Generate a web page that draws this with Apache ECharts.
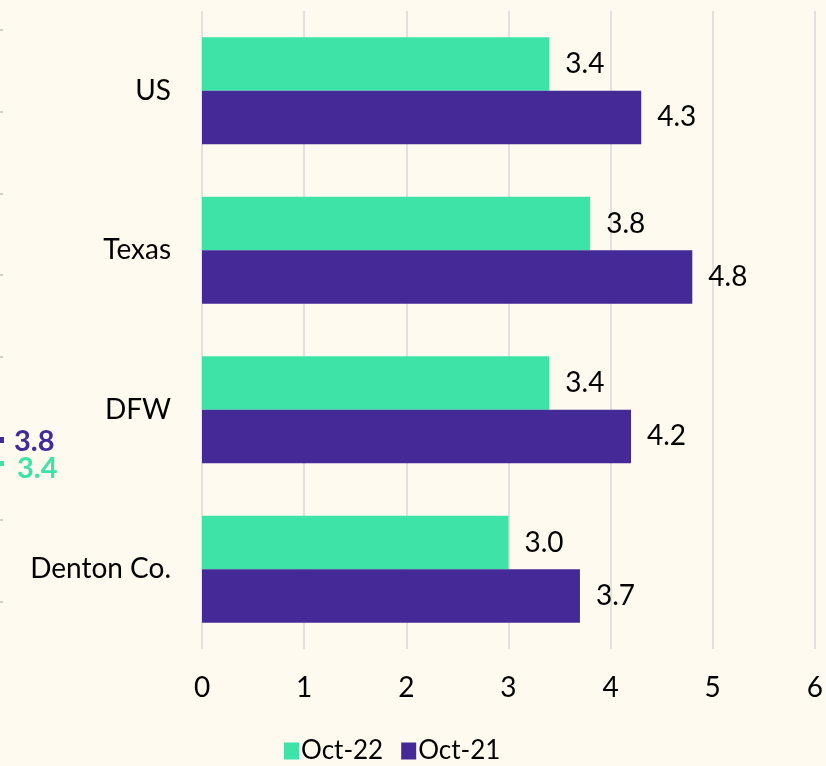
<!DOCTYPE html>
<html>
<head>
<meta charset="utf-8">
<script src="https://cdn.jsdelivr.net/npm/echarts@6/dist/echarts.min.js"></script>
<style>
html,body{margin:0;padding:0;background:#FEFAEF;}
#chart{width:826px;height:766px;}
</style>
</head>
<body>
<div id="chart"></div>
<script>
const categories = ['US', 'Texas', 'DFW', 'Denton Co.'];
const oct22 = [3.4, 3.8, 3.4, 3.0];
const oct21 = [4.3, 4.8, 4.2, 3.7];
const seriesNames = ['Oct-22', 'Oct-21'];
const xTicks = [0, 1, 2, 3, 4, 5, 6];
const fragmentValues = ['3.8', '3.4'];

const FONT = 'Lato';
const GREEN = '#3EE3A8';
const PURPLE = '#442A96';

const chart = echarts.init(document.getElementById('chart'));

const leftTicks = [30, 112, 194, 275, 357, 439, 520, 602].map(y => ({
  type: 'rect', shape: {x: 0, y: y - 1, width: 3, height: 2}, style: {fill: '#d0cec8'}, silent: true
}));

chart.setOption({
  backgroundColor: '#FEFAEF',
  animation: false,
  textStyle: {fontFamily: FONT},
  grid: {left: 202, right: 9, top: 11, bottom: 117, containLabel: false},
  xAxis: {
    type: 'value', min: xTicks[0], max: xTicks[xTicks.length - 1], interval: 1,
    axisLine: {show: false}, axisTick: {show: false},
    splitLine: {show: true, lineStyle: {color: '#D9D9D9', width: 1.5}},
    axisLabel: {fontFamily: FONT, fontSize: 28, color: '#000', margin: 25}
  },
  yAxis: {
    type: 'category', data: categories, inverse: true,
    axisLine: {show: false}, axisTick: {show: false},
    axisLabel: {fontFamily: FONT, fontSize: 28, color: '#000', margin: 31}
  },
  legend: {
    data: seriesNames, left: 279, top: 733, itemWidth: 15, itemHeight: 17, itemGap: 18,
    icon: 'rect',
    textStyle: {fontFamily: FONT, fontSize: 26, color: '#000', padding: [0, 0, 0, -3]}
  },
  series: [
    {
      name: seriesNames[0], type: 'bar', data: oct22, barGap: '0%', barCategoryGap: '33%',
      itemStyle: {color: GREEN},
      label: {show: true, position: 'right', distance: 16, fontFamily: FONT, fontSize: 28, color: '#000',
        formatter: p => p.value.toFixed(1)}
    },
    {
      name: seriesNames[1], type: 'bar', data: oct21, barGap: '0%', barCategoryGap: '33%',
      itemStyle: {color: PURPLE},
      label: {show: true, position: 'right', distance: 16, fontFamily: FONT, fontSize: 28, color: '#000',
        formatter: p => p.value.toFixed(1)}
    }
  ],
  graphic: leftTicks.concat([
    {type: 'rect', shape: {x: 0, y: 437, width: 4, height: 6}, style: {fill: PURPLE}, silent: true},
    {type: 'rect', shape: {x: 0, y: 461, width: 4, height: 5}, style: {fill: GREEN}, silent: true},
    {type: 'text', left: 14, top: 427, style: {text: fragmentValues[0], fill: PURPLE, font: 'bold 29px ' + FONT}, silent: true},
    {type: 'text', left: 17, top: 454, style: {text: fragmentValues[1], fill: GREEN, font: 'bold 29px ' + FONT}, silent: true}
  ])
});
</script>
</body>
</html>
